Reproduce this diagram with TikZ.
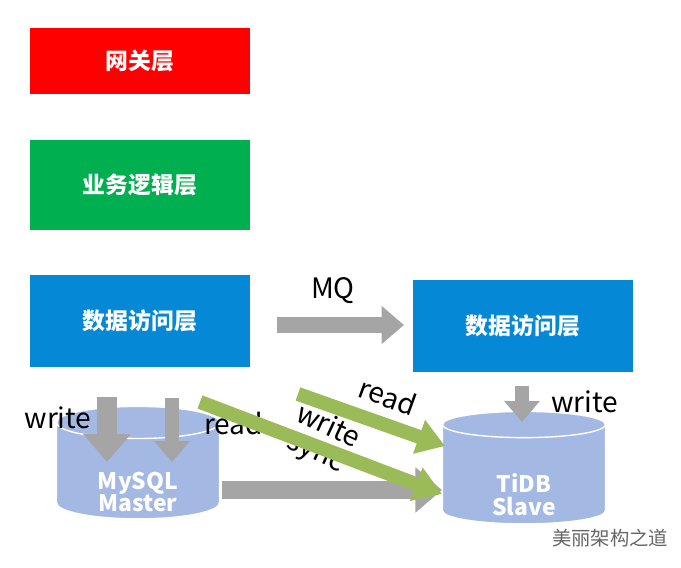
\documentclass[tikz,border=0pt]{standalone}
\usepackage{fontspec}
\setmainfont{Noto Sans CJK SC}
\usetikzlibrary{shapes.geometric,arrows.meta}
\definecolor{cred}{HTML}{FF0000}
\definecolor{cgreen}{HTML}{00B050}
\definecolor{cblue}{HTML}{0589D6}
\definecolor{ccyl}{HTML}{A3B8E2}
\definecolor{cgray}{HTML}{A5A5A5}
\definecolor{cgr}{HTML}{9BBB59}
\begin{document}
\begin{tikzpicture}[x=0.02cm,y=-0.02cm,
  box/.style={draw=none,minimum width=4.4cm,font=\bfseries\fontsize{13}{15}\selectfont,text=white},
  cyltext/.style={text=white,font=\bfseries\fontsize{13}{16}\selectfont,align=center},
  cyl/.style={cylinder,shape border rotate=90,aspect=0.35,draw=white,line width=0.8pt,fill=ccyl,minimum width=3.26cm,minimum height=2.25cm,cyltext},
  garrow/.style={draw=cgray,line width=#1,-{Triangle[width=2.3*#1,length=1.4*#1]}},
  greenarrow/.style={draw=cgr,line width=0.28cm,-{Triangle[width=0.68cm,length=0.55cm]}},
  lbl/.style={font=\fontsize{16}{18}\selectfont}]
\useasboundingbox (0,0) rectangle (681,568);
\node[box,fill=cred,minimum height=1.34cm] (gw) at (140,61) {网关层};
\node[box,fill=cgreen,minimum height=1.8cm] (biz) at (140,185) {业务逻辑层};
\node[box,fill=cblue,minimum height=1.86cm] (dal) at (140,321) {数据访问层};
\node[box,fill=cblue,minimum height=1.84cm] (dar) at (523,326) {数据访问层};
\node[cyl] (my) at (138,474) {\phantom{MySQL}\\[-3pt]\phantom{Master}};
\node[cyl] (ti) at (524,477) {\phantom{TiDB}\\[-3pt]\phantom{Slave}};
\node[cyltext] (myt) at (138,492) {MySQL\\[-3pt]Master};
\node[cyltext] (tit) at (524,495) {TiDB\\[-3pt]Slave};
\coordinate (mq1) at (277,325); \coordinate (mq2) at (404,325);
\draw[garrow=0.32cm] (mq1) -- (mq2);
\node[lbl] (mq) at (333,291) {MQ};
\coordinate (w1) at (107,397); \coordinate (w2) at (107,462);
\draw[garrow=0.4cm] (w1) -- (w2);
\coordinate (r1) at (172,398); \coordinate (r2) at (172,462);
\draw[garrow=0.3cm] (r1) -- (r2);
\node[lbl] (wl) at (58,418) {write};
\node[lbl,anchor=west] (rl) at (198,423) {read};
\coordinate (s1) at (222,490); \coordinate (s2) at (442,490);
\draw[garrow=0.38cm] (s1) -- (s2);
\node[lbl,rotate=-25,align=center] (ws) at (322,440) {write\\[-2pt]sync};
\node[lbl,rotate=-20] (rd) at (388,396) {read};
\coordinate (g1) at (200,402); \coordinate (g2) at (442,494);
\draw[greenarrow] (g1) -- (g2);
\coordinate (h1) at (298,394); \coordinate (h2) at (445,446);
\draw[greenarrow] (h1) -- (h2);
\coordinate (t1) at (522,386); \coordinate (t2) at (522,422);
\draw[garrow=0.3cm] (t1) -- (t2);
\node[lbl,anchor=west] (tw) at (545,402) {write};
\node[text=gray!80!black,font=\fontsize{11}{13}\selectfont] (wm) at (610,538) {美丽架构之道};
\end{tikzpicture}
\end{document}
